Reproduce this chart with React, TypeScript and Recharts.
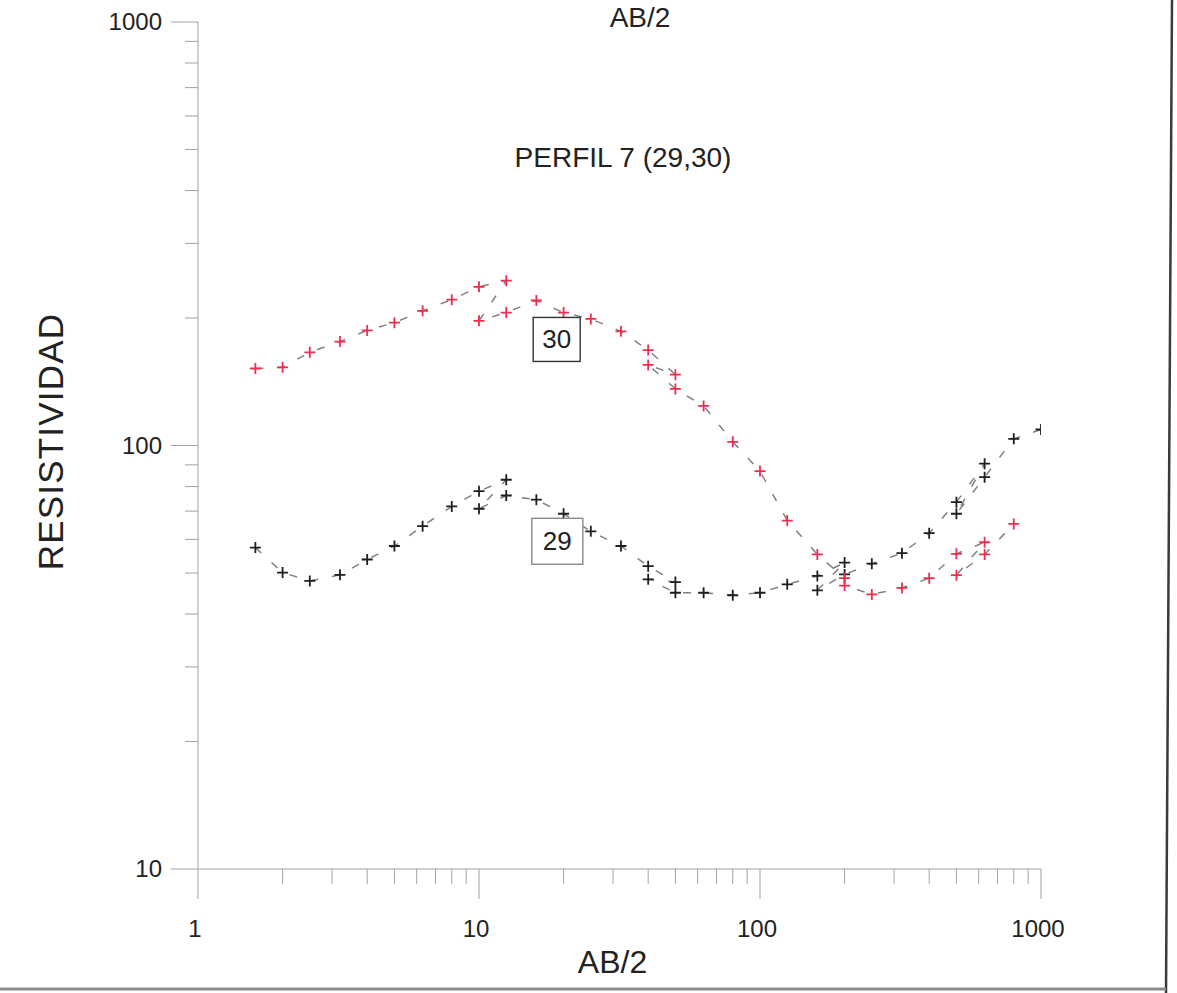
import { ScatterChart, Scatter, XAxis, YAxis, ReferenceDot, Label } from "recharts";

// AB/2 spacing (m) in the order the soundings were read; overlapping
// spreads are repeated so the dashed trace doubles back like the field sheet
const abSev30 = [1.6, 2, 2.5, 3.2, 4, 5, 6.3, 8, 10, 12.5, 10, 12.5, 16, 20, 25, 32, 40, 50, 40, 50, 63, 80, 100, 125, 160, 200, 200, 250, 320, 400, 500, 630, 500, 630, 800];
const rhoSev30 = [152, 153, 166, 176, 187, 195, 208, 221, 237, 245, 197, 206, 220, 206, 199, 186, 168, 147, 155, 136, 124, 102, 87, 66.5, 55.3, 48.6, 46.7, 44.5, 46.1, 48.6, 55.5, 59.1, 49.4, 55.3, 65.3];

const abSev29 = [1.6, 2, 2.5, 3.2, 4, 5, 6.3, 8, 10, 12.5, 10, 12.5, 16, 20, 25, 32, 40, 50, 40, 50, 63, 80, 100, 125, 160, 200, 160, 200, 250, 320, 400, 500, 630, 500, 630, 800, 1000];
const rhoSev29 = [57.4, 50.1, 47.9, 49.5, 53.8, 57.9, 64.5, 71.8, 78, 83, 70.9, 76.2, 74.5, 69, 62.7, 57.9, 51.9, 47.6, 48.3, 44.9, 44.9, 44.3, 44.9, 47, 49.2, 52.9, 45.5, 49.6, 52.6, 55.7, 62.1, 73.5, 90.6, 69, 84.2, 103.7, 109.1];

// log ticks, labels only on the decades
const xTicks = [1, 2, 3, 4, 5, 6, 7, 8, 9, 10, 20, 30, 40, 50, 60, 70, 80, 90, 100, 200, 300, 400, 500, 600, 700, 800, 900, 1000];
const yTicks = [10, 20, 30, 40, 50, 60, 70, 80, 90, 100, 200, 300, 400, 500, 600, 700, 800, 900, 1000];

// where the SEV number boxes sit (AB/2, rho)
const tag30 = { ab: 18.9, rho: 178 };
const tag29 = { ab: 19.0, rho: 59.4 };

const FONT = "'Liberation Sans', Arial, sans-serif";
const AXIS_GRAY = "#a3a3a3";

const toRows = (ab: number[], rho: number[]) => ab.map((a, i) => ({ ab: a, rho: rho[i] }));
const sev30 = toRows(abSev30, rhoSev30);
const sev29 = toRows(abSev29, rhoSev29);

const isDecade = (v: number) => Math.abs(Math.log10(v) - Math.round(Math.log10(v))) < 1e-9;

const XTick = (props: any) => {
  const { x, y, payload } = props;
  const major = isDecade(payload.value);
  return (
    <g>
      <line x1={x} x2={x} y1={y} y2={y + (major ? 30 : 15)} stroke={AXIS_GRAY} strokeWidth={1} />
      {major && (
        <text x={x - 3} y={y + 68} textAnchor="middle" fontSize={24} fill="#222" fontFamily={FONT}>
          {payload.value}
        </text>
      )}
    </g>
  );
};

const YTick = (props: any) => {
  const { x, y, payload } = props;
  const major = isDecade(payload.value);
  return (
    <g>
      <line x1={x} x2={x - (major ? 27 : 13)} y1={y} y2={y} stroke={AXIS_GRAY} strokeWidth={1} />
      {major && (
        <text x={x - 36} y={y + 8} textAnchor="end" fontSize={24} fill="#222" fontFamily={FONT}>
          {payload.value}
        </text>
      )}
    </g>
  );
};

// plus-sign marker used by the old plotting package
const plus = (color: string) => (props: any) => {
  const { cx, cy } = props;
  if (cx == null || cy == null) return <g />;
  return (
    <path
      d={`M${cx - 5.5},${cy}H${cx + 5.5}M${cx},${cy - 5.5}V${cy + 5.5}`}
      stroke={color}
      strokeWidth={1.8}
      fill="none"
    />
  );
};

const boxTag = (text: string, w: number, h: number, border: string) => (props: any) => {
  const { cx, cy } = props;
  return (
    <g>
      <rect x={cx - w / 2} y={cy - h / 2} width={w} height={h} fill="#fff" stroke={border} strokeWidth={1.4} />
      <text x={cx} y={cy + 9} textAnchor="middle" fontSize={26} fill="#222" fontFamily={FONT}>
        {text}
      </text>
    </g>
  );
};

const YTitle = (props: any) => {
  const { viewBox } = props;
  const cy = viewBox.y + viewBox.height / 2 - 4;
  return (
    <text
      x={50}
      y={cy}
      transform={`rotate(-90 50 ${cy})`}
      textAnchor="middle"
      dominantBaseline="central"
      fontSize={35}
      letterSpacing={1.2}
      fill="#222"
      fontFamily={FONT}
    >
      RESISTIVIDAD
    </text>
  );
};

export default function App() {
  return (
    <div style={{ position: "absolute", left: 0, top: 0, width: 1177, height: 993, background: "#fff" }}>
      <ScatterChart width={1177} height={993} margin={{ top: 22, right: 136, bottom: 20, left: 0 }}>
        <XAxis
          dataKey="ab"
          type="number"
          scale="log"
          domain={[1, 1000]}
          ticks={xTicks}
          interval={0}
          allowDataOverflow
          height={104}
          tickSize={0}
          tickMargin={0}
          tickLine={false}
          axisLine={{ stroke: AXIS_GRAY, strokeWidth: 1 }}
          tick={<XTick />}
        >
          <Label value="AB/2" position="insideBottom" offset={0} fontSize={32} fill="#222" fontFamily={FONT} dx={-7} />
        </XAxis>
        <YAxis
          dataKey="rho"
          type="number"
          scale="log"
          domain={[10, 1000]}
          ticks={yTicks}
          interval={0}
          allowDataOverflow
          width={198}
          tickSize={0}
          tickMargin={0}
          tickLine={false}
          axisLine={{ stroke: AXIS_GRAY, strokeWidth: 1 }}
          tick={<YTick />}
        >
          <Label content={<YTitle />} />
        </YAxis>
        <Scatter
          data={sev29}
          fill="#1e1e1e"
          line={{ stroke: "#808080", strokeWidth: 1.5, strokeDasharray: "8 14" }}
          lineType="joint"
          shape={plus("#1e1e1e")}
          isAnimationActive={false}
        />
        <Scatter
          data={sev30}
          fill="#ee2e4e"
          line={{ stroke: "#808080", strokeWidth: 1.5, strokeDasharray: "8 14" }}
          lineType="joint"
          shape={plus("#ee2e4e")}
          isAnimationActive={false}
        />
        <ReferenceDot x={tag30.ab} y={tag30.rho} shape={boxTag("30", 47, 44, "#333")} />
        <ReferenceDot x={tag29.ab} y={tag29.rho} shape={boxTag("29", 51, 46, "#8a8a8a")} />
      </ScatterChart>
      <svg
        width={1177}
        height={993}
        style={{ position: "absolute", left: 0, top: 0, pointerEvents: "none" }}
      >
        <text x={640} y={27} textAnchor="middle" fontSize={28} fill="#222" fontFamily={FONT}>
          AB/2
        </text>
        <text x={623} y={167} textAnchor="middle" fontSize={28} fill="#222" fontFamily={FONT}>
          PERFIL 7 (29,30)
        </text>
        <line x1={1172} y1={0} x2={1166} y2={993} stroke="#3a3a3a" strokeWidth={2.5} />
        <line x1={0} y1={989} x2={1166} y2={989} stroke="#8c8c8c" strokeWidth={3} />
      </svg>
    </div>
  );
}
